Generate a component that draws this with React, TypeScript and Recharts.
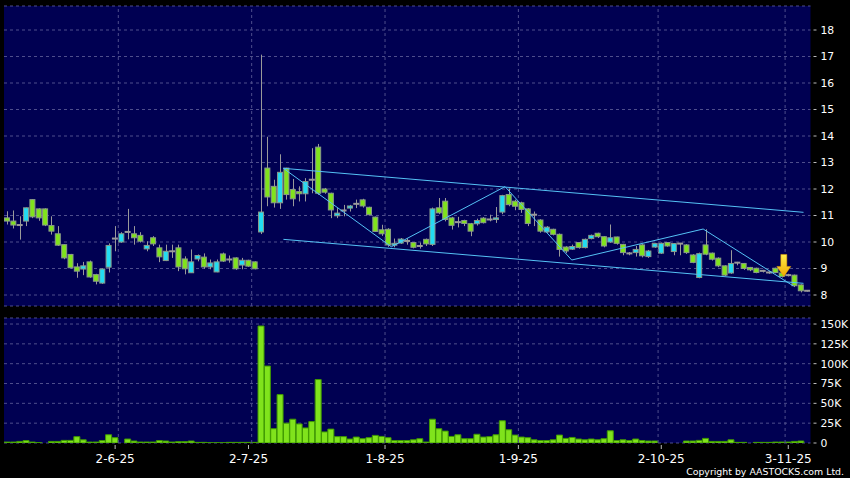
import {
  ComposedChart,
  Bar,
  XAxis,
  YAxis,
  CartesianGrid,
  ReferenceLine,
  ReferenceDot,
} from "recharts";

// daily prices (candle index 0 = early May 2025)
const openPrices = [
  10.91, 10.79, 10.64, 10.79, 11.6, 11.25, 11.25, 10.62, 10.31, 9.9,
  9.53, 9.06, 8.98, 9.25, 8.77, 8.45, 9.05, 10.13, 10.0, 10.38,
  10.31, 10.25, 9.74, 10.16, 9.78, 9.3, 9.65, 9.78, 9.36, 8.84,
  9.36, 9.43, 9.06, 8.87, 9.55, 9.34, 9.4, 9.13, 9.31, 9.25,
  10.38, 12.79, 12.1, 11.48, 12.79, 11.98, 11.9, 11.82, 12.35, 13.58,
  12.0, 11.84, 10.99, 11.19, 11.28, 11.44, 11.59, 11.31, 10.94, 10.46,
  10.48, 9.88, 9.96, 10.04, 9.98, 9.85, 10.1, 9.91, 11.29, 11.54,
  10.91, 10.75, 10.81, 10.69, 10.69, 10.9, 10.85, 10.85, 11.13, 11.79,
  11.54, 11.48, 11.25, 11.03, 10.83, 10.38, 10.48, 10.29, 9.81, 9.73,
  9.98, 9.79, 10.13, 10.33, 10.2, 10.0, 10.19, 9.91, 9.57, 9.6,
  9.89, 9.45, 9.81, 9.58, 9.98, 9.64, 9.94, 9.89, 9.51, 8.66,
  9.89, 9.58, 9.39, 9.1, 8.83, 9.22, 9.19, 9.04, 9.01, 8.91,
  8.85, 9.01, 8.83, 8.75, 8.75, 8.38, 8.16,
];
const closePrices = [
  10.79, 10.64, 10.64, 11.29, 10.95, 10.91, 10.64, 10.41, 9.88, 9.4,
  9.03, 8.9, 9.1, 8.68, 8.52, 8.98, 9.87, 10.13, 10.31, 10.38,
  10.16, 10.03, 9.87, 9.93, 9.44, 9.65, 9.65, 9.06, 8.99, 9.25,
  9.49, 9.06, 9.21, 9.25, 9.28, 9.34, 8.99, 9.31, 9.09, 8.99,
  11.13, 11.7, 11.48, 12.63, 11.79, 11.63, 11.82, 12.28, 12.35, 11.84,
  11.88, 11.21, 11.09, 11.19, 11.36, 11.44, 11.36, 11.03, 10.4, 10.31,
  9.89, 9.95, 10.11, 10.04, 9.8, 9.85, 9.93, 11.25, 11.1, 10.85,
  10.63, 10.75, 10.7, 10.41, 10.81, 10.73, 10.85, 10.91, 11.75, 11.41,
  11.35, 11.23, 10.7, 11.03, 10.41, 10.56, 10.29, 9.72, 9.66, 9.83,
  9.79, 10.1, 10.25, 10.2, 9.85, 10.16, 9.95, 9.6, 9.57, 9.72,
  9.48, 9.66, 9.94, 9.95, 9.85, 9.94, 9.94, 9.6, 9.23, 9.56,
  9.54, 9.35, 9.1, 8.75, 9.19, 9.22, 9.0, 8.95, 8.85, 8.91,
  8.85, 8.85, 8.7, 8.75, 8.35, 8.16, 8.16,
];
const highPrices = [
  11.16, 11.19, 10.97, 11.3, 11.62, 11.27, 11.27, 10.97, 10.6, 9.92,
  9.55, 9.2, 9.25, 9.3, 8.8, 9.0, 9.95, 10.6, 10.37, 11.25,
  10.6, 10.37, 10.03, 10.22, 9.9, 9.9, 9.9, 9.9, 9.46, 9.72,
  9.53, 9.57, 9.34, 9.34, 9.6, 9.49, 9.42, 9.4, 9.33, 9.27,
  17.07, 13.97, 12.35, 13.31, 12.8, 12.38, 12.1, 12.41, 13.54, 13.7,
  12.04, 11.86, 11.28, 11.4, 11.4, 11.6, 11.63, 11.33, 10.96, 10.65,
  10.52, 10.13, 10.15, 10.14, 10.0, 9.98, 10.13, 11.3, 11.66, 11.66,
  10.95, 10.95, 10.84, 10.72, 10.88, 10.94, 11.03, 11.32, 11.78, 12.02,
  11.6, 11.52, 11.28, 11.15, 10.86, 10.6, 10.5, 10.32, 9.84, 9.9,
  10.0, 10.13, 10.28, 10.35, 10.22, 10.66, 10.2, 9.93, 9.62, 9.85,
  9.92, 9.7, 9.97, 9.98, 10.0, 9.96, 9.96, 9.92, 9.54, 9.6,
  10.48, 9.6, 9.42, 9.12, 9.69, 9.25, 9.21, 9.06, 9.03, 8.95,
  8.9, 9.03, 8.86, 8.8, 8.77, 8.4, 8.18,
];
const lowPrices = [
  10.66, 10.51, 10.09, 10.6, 10.9, 10.8, 10.6, 10.28, 9.85, 9.35,
  9.0, 8.65, 8.75, 8.65, 8.4, 8.42, 8.85, 9.65, 9.97, 10.1,
  9.9, 9.98, 9.65, 9.85, 9.24, 9.28, 9.4, 8.9, 8.78, 8.84,
  9.27, 8.99, 8.97, 8.86, 9.25, 9.22, 8.95, 8.97, 9.06, 8.97,
  10.3, 11.35, 11.3, 11.25, 11.6, 11.35, 11.53, 11.53, 11.84, 11.78,
  11.82, 10.9, 10.9, 10.97, 11.15, 11.28, 11.3, 11.0, 10.38, 10.23,
  9.82, 9.8, 9.93, 9.9, 9.76, 9.75, 9.85, 9.85, 11.05, 10.78,
  10.47, 10.55, 10.6, 10.22, 10.62, 10.7, 10.78, 10.72, 11.05, 11.35,
  11.2, 11.1, 10.6, 10.6, 10.35, 10.35, 10.25, 9.45, 9.58, 9.7,
  9.75, 9.76, 10.1, 10.15, 9.8, 9.97, 9.9, 9.5, 9.5, 9.45,
  9.42, 9.4, 9.78, 9.55, 9.82, 9.5, 9.5, 9.55, 9.2, 8.63,
  9.5, 9.3, 9.05, 8.72, 8.8, 9.12, 8.95, 8.9, 8.82, 8.85,
  8.8, 8.82, 8.66, 8.7, 8.3, 8.1, 8.13,
];
// volume in thousands of shares
const volumesK = [
  1.2, 1.2, 2, 3, 1.2, 0.4, 0, 2, 2, 3.3,
  3.3, 8, 4, 1.2, 1.2, 3, 10.4, 6.7, 0, 5,
  2.5, 1.2, 1.2, 1.2, 3, 2.5, 1.2, 1.7, 1.7, 2.5,
  0.8, 0.8, 0.3, 0.3, 0.3, 0.8, 0.8, 0.8, 0.8, 0.8,
  147.5, 97, 18, 61, 25, 30, 24, 19, 27, 80,
  14, 17.5, 8, 8, 5, 7.5, 5.4, 6.7, 9.6, 8.3,
  6.7, 3, 3, 3, 4, 5.4, 1.2, 30, 18, 15,
  8.3, 10.4, 5.4, 5.4, 11, 7.5, 8, 10.4, 28, 16.7,
  10, 7.5, 6.7, 4, 3, 3, 4, 10, 5.8, 7,
  5, 4, 5, 4, 5.4, 15.4, 3, 4, 3, 5,
  3, 2.5, 2.5, 0, 0, 0, 0, 2.5, 2.5, 3.3,
  5.8, 2, 2, 2, 4, 0.8, 0.8, 0, 0.8, 0.8,
  0.8, 1.2, 1.2, 1.2, 2, 2.5, 0,
];

const xTickPos = [17, 38, 59.5, 80.5, 103, 123];
const xTickLabels = ["2-6-25", "2-7-25", "1-8-25", "1-9-25", "2-10-25", "3-11-25"];
const xGridPos = [17.5, 38.5, 59.5, 80.5, 102.5, 122.5];
const priceTicks = [8, 9, 10, 11, 12, 13, 14, 15, 16, 17, 18];
const volumeTicks = [0, 25, 50, 75, 100, 125, 150];

// hand-drawn trend lines (candle index, price)
const upperChannel = [{ x: 43.5, y: 12.78 }, { x: 125.4, y: 11.12 }];
const lowerChannel = [{ x: 43.5, y: 10.1 }, { x: 125.4, y: 8.44 }];
const zigzag = [
  { x: 43.5, y: 12.78 },
  { x: 60.5, y: 9.82 },
  { x: 78.4, y: 12.09 },
  { x: 88.9, y: 9.32 },
  { x: 109.6, y: 10.49 },
  { x: 123.8, y: 8.34 },
];
const arrowTip = { x: 122.3, y: 8.7 };

const BG = "#000052";
const GRID = "#4e4e8c";
const GREEN = "#80e31c";
const CYAN = "#22dcf2";
const WICK = "#9a9a9a";
const EDGE = "#8a9a8a";
const TREND = "#55c2f5";
const FONT = "DejaVu Sans";

const candles = openPrices.map((o, i) => ({
  i,
  o,
  c: closePrices[i],
  h: highPrices[i],
  l: lowPrices[i],
  range: [lowPrices[i], highPrices[i]],
  v: volumesK[i],
}));

const Candle = (props: any) => {
  const { x, y, width, height } = props;
  const p = props.payload ?? props;
  const ppu = height / (p.h - p.l);
  const cx = Math.round(x + width / 2) + 0.5;
  const yO = y + (p.h - p.o) * ppu;
  const yC = y + (p.h - p.c) * ppu;
  const top = Math.min(yO, yC);
  const bh = Math.abs(yO - yC);
  return (
    <g>
      <line x1={cx} x2={cx} y1={y} y2={y + height} stroke={WICK} strokeWidth={1} />
      {p.o === p.c ? (
        <rect x={x} y={yO - 1} width={width} height={2} fill={WICK} />
      ) : (
        <rect
          x={x + 0.5}
          y={top}
          width={width - 1}
          height={Math.max(bh, 1)}
          fill={p.c > p.o ? CYAN : GREEN}
          stroke={EDGE}
          strokeWidth={1}
        />
      )}
    </g>
  );
};

const Arrow = (props: any) => {
  const { cx, cy } = props;
  const pts = [
    [cx, cy],
    [cx - 7, cy - 10],
    [cx - 3, cy - 10],
    [cx - 3, cy - 22],
    [cx + 3, cy - 22],
    [cx + 3, cy - 10],
    [cx + 7, cy - 10],
  ]
    .map((q) => q.join(","))
    .join(" ");
  return <polygon points={pts} fill="url(#arrowFill)" stroke="#e8a000" strokeWidth={0.5} />;
};

const RightTick = (props: any) => {
  const { x, y, payload, fmt } = props;
  return (
    <g>
      <line x1={x - 7} x2={x - 4} y1={y} y2={y} stroke="#bbbbbb" />
      <text x={x} y={y} dy="0.36em" fill="#ffffff" fontSize={10.8} fontFamily={FONT}>
        {fmt(payload.value)}
      </text>
    </g>
  );
};

const BottomTick = (props: any) => {
  const { x, y, payload } = props;
  const label = xTickLabels[xTickPos.indexOf(payload.value)];
  return (
    <g>
      <line x1={x} x2={x} y1={y - 6} y2={y - 2} stroke="#bbbbbb" />
      <text x={x} y={y + 11.5} textAnchor="middle" fill="#ffffff" fontSize={12} fontFamily={FONT}>
        {label}
      </text>
    </g>
  );
};

const segments = (pts: { x: number; y: number }[]) =>
  pts.slice(1).map((p, k) => (
    <ReferenceLine
      key={`z${k}`}
      segment={[pts[k], p]}
      stroke={TREND}
      strokeWidth={1}
    />
  ));

export default function App() {
  return (
    <div
      style={{
        position: "absolute",
        left: 0,
        top: 0,
        width: 850,
        height: 478,
        background: "#000",
        overflow: "hidden",
      }}
    >
      <svg width={0} height={0} style={{ position: "absolute" }}>
        <defs>
          <linearGradient id="arrowFill" x1="0" y1="0" x2="0" y2="1">
            <stop offset="0%" stopColor="#fff04a" />
            <stop offset="100%" stopColor="#f0a800" />
          </linearGradient>
        </defs>
      </svg>

      <div style={{ position: "absolute", left: 0, top: 0 }}>
        <ComposedChart
          width={850}
          height={312}
          data={candles}
          margin={{ top: 6, right: 0, bottom: 6, left: 4 }}
        >
          <CartesianGrid
            vertical={false}
            stroke={GRID}
            strokeDasharray="3 3"
            fill={BG}
            fillOpacity={1}
          />
          <XAxis type="number" dataKey="i" domain={[-0.5, 126.5]} allowDataOverflow hide />
          <YAxis
            orientation="right"
            width={39.5}
            type="number"
            domain={[7.585, 18.906]}
            allowDataOverflow
            ticks={priceTicks}
            interval={0}
            axisLine={false}
            tickLine={false}
            tickSize={6}
            tickMargin={4}
            tick={<RightTick fmt={(v: number) => String(v)} />}
          />
          {xGridPos.map((p) => (
            <ReferenceLine key={p} x={p} stroke={GRID} strokeDasharray="3 3" />
          ))}
          <Bar dataKey="range" barSize={6} shape={<Candle />} isAnimationActive={false} />
          <ReferenceLine segment={upperChannel} stroke={TREND} strokeWidth={1} />
          <ReferenceLine segment={lowerChannel} stroke={TREND} strokeWidth={1} />
          {segments(zigzag)}
          <ReferenceDot x={arrowTip.x} y={arrowTip.y} r={0} shape={<Arrow />} />
        </ComposedChart>
      </div>

      <div style={{ position: "absolute", left: 0, top: 312 }}>
        <ComposedChart
          width={850}
          height={166}
          data={candles}
          margin={{ top: 6, right: 0, bottom: 0, left: 4 }}
        >
          <CartesianGrid
            vertical={false}
            stroke={GRID}
            strokeDasharray="3 3"
            fill={BG}
            fillOpacity={1}
          />
          <XAxis
            type="number"
            dataKey="i"
            domain={[-0.5, 126.5]}
            allowDataOverflow
            ticks={xTickPos}
            height={35}
            axisLine={false}
            tickLine={false}
            tickSize={6}
            tickMargin={2}
            tick={<BottomTick />}
            interval={0}
          />
          <YAxis
            orientation="right"
            width={39.5}
            type="number"
            domain={[0, 157.6]}
            allowDataOverflow
            ticks={volumeTicks}
            interval={0}
            axisLine={false}
            tickLine={false}
            tickSize={6}
            tickMargin={4}
            tick={<RightTick fmt={(v: number) => (v === 0 ? "0" : `${v}K`)} />}
          />
          {xGridPos.map((p) => (
            <ReferenceLine key={p} x={p} stroke={GRID} strokeDasharray="3 3" />
          ))}
          <Bar
            dataKey="v"
            barSize={6}
            fill={GREEN}
            stroke="#3f9a00"
            strokeWidth={1}
            isAnimationActive={false}
          />
        </ComposedChart>
      </div>

      <div
        style={{
          position: "absolute",
          right: 6,
          top: 466,
          color: "#ffffff",
          fontSize: 9.4,
          fontFamily: FONT,
          lineHeight: "12px",
        }}
      >
        Copyright by AASTOCKS.com Ltd.
      </div>
    </div>
  );
}
